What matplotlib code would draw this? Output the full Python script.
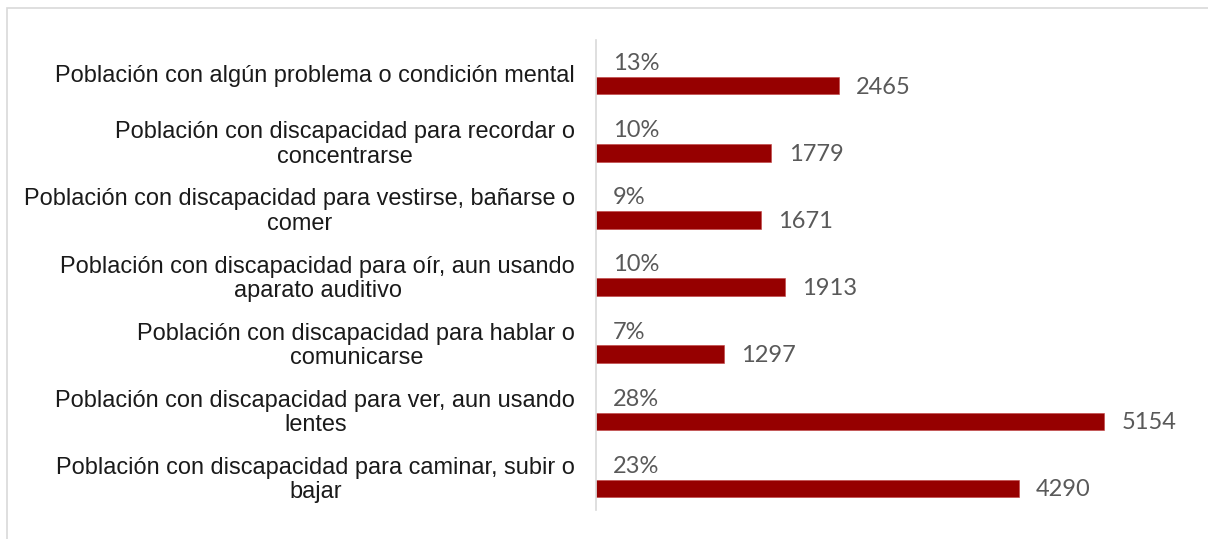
import matplotlib
matplotlib.use("Agg")
import matplotlib.pyplot as plt
from matplotlib.patches import Rectangle

categories = [
    "Población con algún problema o condición mental",
    "Población con discapacidad para recordar o\nconcentrarse",
    "Población con discapacidad para vestirse, bañarse o\ncomer",
    "Población con discapacidad para oír, aun usando\naparato auditivo",
    "Población con discapacidad para hablar o\ncomunicarse",
    "Población con discapacidad para ver, aun usando\nlentes",
    "Población con discapacidad para caminar, subir o\nbajar",
]
values = [2465, 1779, 1671, 1913, 1297, 5154, 4290]
percents = ["13%", "10%", "9%", "10%", "7%", "28%", "23%"]

W, H = 1208, 539
fig = plt.figure(figsize=(W / 100, H / 100), dpi=100)
fig.patches.append(Rectangle((7 / W, -0.1), 1.2, 1.1 - 8 / H, transform=fig.transFigure,
                             fill=False, edgecolor="#d9d9d9", linewidth=1.2))

ax_left, ax_right = 596 / W, 1187.4 / W
ax_bot, ax_top = 1 - 510 / H, 1 - 40 / H
ax = fig.add_axes([ax_left, ax_bot, ax_right - ax_left, ax_top - ax_bot])

n = len(categories)
pos = [n - 1 - i for i in range(n)]
bar_off = -0.18
pct_off = 0.17

ax.barh([p + bar_off for p in pos], values, height=0.26, color="#960000",
        edgecolor="#c04040", linewidth=0.4)

for p, v, pc in zip(pos, values, percents):
    ax.annotate(str(v), xy=(v, p + bar_off), xytext=(12.5, -1), textcoords="offset points",
                ha="left", va="center", fontsize=17, color="#595959", family="Lato")
    ax.annotate(pc, xy=(0, p + pct_off), xytext=(12, -1), textcoords="offset points",
                ha="left", va="center", fontsize=17, color="#595959", family="Lato")

ax.set_xlim(0, 6000)
ax.set_ylim(-0.5, n - 0.5)
ax.set_yticks(pos)
ax.set_yticklabels(categories, fontsize=16.95, color="#1a1a1a", family="Liberation Sans",
                   linespacing=1.15)
for t in ax.get_yticklabels():
    t.set_multialignment("center")
ax.tick_params(axis="y", length=0, pad=15)
ax.set_xticks([])
for s in ["top", "right", "bottom"]:
    ax.spines[s].set_visible(False)
ax.spines["left"].set_color("#d9d9d9")
ax.spines["left"].set_linewidth(1.2)

fig.savefig("out.png", dpi=100)
